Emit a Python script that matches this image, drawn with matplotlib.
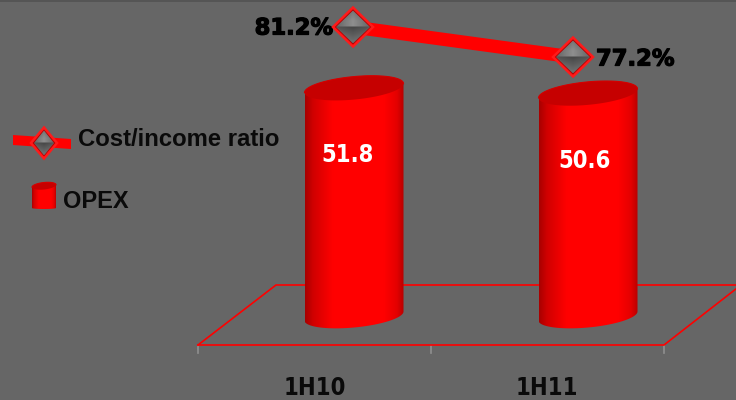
import matplotlib
matplotlib.use('Agg')
import matplotlib.pyplot as plt
import matplotlib.patheffects as pe
import numpy as np
from matplotlib.colors import LinearSegmentedColormap
from matplotlib.patches import Polygon

periods = ['1H10', '1H11']
opex = [51.8, 50.6]
cost_income = [81.2, 77.2]
cost_income_labels = ['81.2%', '77.2%']
series_names = ['Cost/income ratio', 'OPEX']

W, H = 736, 400
BG = '#666666'
RED = '#ff0000'

cyl_cmap = LinearSegmentedColormap.from_list(
    'cyl', [(0, '#a80000'), (0.08, '#d00000'), (0.28, '#ff0000'), (0.8, '#ff0000'), (0.93, '#e40000'), (1, '#b80000')])


def full_axes(fig, x0, x1, y0, y1):
    """Axes over the whole figure, with the given limits."""
    ax = fig.add_axes([0, 0, 1, 1])
    ax.set_xlim(x0, x1)
    ax.set_ylim(y0, y1)
    ax.axis('off')
    ax.patch.set_alpha(0)
    return ax


def ellipse_xy(cx, cy, rx, ry, slope, start=0, stop=2 * np.pi):
    t = np.linspace(start, stop, 80)
    x = rx * np.cos(t)
    return cx + x, cy + ry * np.sin(t) + slope * x / rx


def draw_cylinder(ax, cx, bottom, top, rx, ry, slope, z=3, bottom_ry=None, bottom_slope=None):
    # body: gradient image clipped to the side outline
    bry = ry if bottom_ry is None else bottom_ry
    bslope = slope if bottom_slope is None else bottom_slope
    xb, yb = ellipse_xy(cx, bottom, rx, bry, bslope, np.pi, 2 * np.pi)
    xt, yt = ellipse_xy(cx, top, rx, ry, slope, 0, np.pi)
    outline = np.column_stack([np.r_[xb, xt], np.r_[yb, yt]])
    grad = np.linspace(0, 1, 256).reshape(1, -1)
    im = ax.imshow(grad, cmap=cyl_cmap, aspect='auto', zorder=z, interpolation='bilinear',
                   extent=[cx - rx, cx + rx, bottom - 2 * bry, top + 2 * ry])
    clip = Polygon(outline, closed=True, transform=ax.transData, fc='none', ec='none')
    ax.add_patch(clip)
    im.set_clip_path(clip)
    # top face
    xe, ye = ellipse_xy(cx, top, rx, ry, slope)
    ax.fill(xe, ye, color='#c60000', lw=0, zorder=z + 1)
    xa, ya = ellipse_xy(cx, top, rx, ry, slope, 0, np.pi)
    ax.plot(xa, ya, color='#d40000', lw=0.8, zorder=z + 1)


def diamond_shade():
    # grey levels for the bevelled face: bright upper half, dark lower half
    v, u = np.mgrid[1:-1:80j, -1:1:80j]
    d = np.abs(u) + np.abs(v)
    upper = 0.56 - 0.16 * np.abs(u) - 0.10 * np.clip(v - 0.35, 0, 1) / 0.65
    lower = 0.27 + 0.18 * np.clip(-v, 0, 1) + 0.06 * np.abs(u)
    shade = np.where(v >= 0, upper, lower)
    return np.where(d <= 1.0, shade, 0.4)


def draw_diamond(ax, x, y, rx, ry, z=6):
    rim = [(x - rx, y), (x, y - ry), (x + rx, y), (x, y + ry)]
    ax.add_patch(Polygon(rim, closed=True, fc='#b40000', ec='#ff1a1a', lw=1.8, zorder=z))
    irx, iry = rx - 3, ry - 3
    im = ax.imshow(diamond_shade(), cmap='gray', vmin=0, vmax=1, aspect='auto', zorder=z + 1,
                   interpolation='bilinear', extent=[x - irx, x + irx, y + iry, y - iry])
    clip = Polygon([(x - irx, y), (x, y - iry), (x + irx, y), (x, y + iry)], closed=True,
                   transform=ax.transData, fc='none', ec='none')
    ax.add_patch(clip)
    im.set_clip_path(clip)


fig = plt.figure(figsize=(W / 100, H / 100), dpi=100, facecolor=BG)

# plain axes over the full figure, used for the floor, the ticks and the legend
px = full_axes(fig, 0, W, H, 0)
px.fill_between([0, W], 0, 2, color='#555555', lw=0)

# OPEX scale: 0 sits on the floor centre, 4.4 px per unit
px_per_unit = 4.4
base_y = 316
bar_x0, bar_step = 354, 234
bars = full_axes(fig, -bar_x0 / bar_step, (W - bar_x0) / bar_step,
                 (base_y - H) / px_per_unit, base_y / px_per_unit)
rx = 49.5 / bar_step
ry = 11.5 / px_per_unit
tilt = 4.5 / px_per_unit

# floor outline
px.plot([198, 664, 741], [345, 345, 285], color=RED, lw=1.2, zorder=2)
px.plot([198, 276, 741], [345, 285, 285], color=RED, lw=1.2, zorder=2)
for tx in [198, 431, 664]:
    px.plot([tx, tx], [346, 353], color='#909090', lw=1.2, zorder=1)

for i, v in enumerate(opex):
    draw_cylinder(bars, i, 0, v, rx, ry, tilt)

bar_label_y = [155, 161]
bar_label_dx = [-6, -3]
for i, v in enumerate(opex):
    bars.text(i + bar_label_dx[i] / bar_step, (base_y - bar_label_y[i]) / px_per_unit, f'{v:.1f}', color='white',
              fontsize=17, fontweight='bold', family='DejaVu Sans', stretch='condensed', ha='center', va='center',
              zorder=8)

# cost/income ratio has its own scale and category spacing
line_x0, line_step = 353, 220
ratio_per_px = 4.0 / 30
line_ax = full_axes(fig, -line_x0 / line_step, (W - line_x0) / line_step,
                    81.2 - (H - 27) * ratio_per_px, 81.2 + 27 * ratio_per_px)
line_ax.plot([0, 1], cost_income, color=RED, lw=9.5, solid_capstyle='butt', zorder=5)

# markers sit on top of the line axes, placed from the ratio values
markers = full_axes(fig, 0, W, H, 0)
for i, v in enumerate(cost_income):
    mx, my = markers.transData.inverted().transform(line_ax.transData.transform((i, v)))
    draw_diamond(markers, mx, my, 20, 19.5)

stroke = [pe.withStroke(linewidth=0.9, foreground='black')]
markers.text(333, 28, cost_income_labels[0], ha='right', va='center', fontsize=16.3, fontweight='bold',
             family='DejaVu Sans', color='black', path_effects=stroke)
markers.text(596, 59, cost_income_labels[1], ha='left', va='center', fontsize=16.3, fontweight='bold',
             family='DejaVu Sans', color='black', path_effects=stroke)

for lx, name in zip([315, 547], periods):
    px.text(lx, 388, name, ha='center', va='center', fontsize=17, fontweight='bold', family='DejaVu Sans',
            stretch='condensed', color='#0a0a0a')

# legend
px.fill([13, 71, 71, 13], [135, 139, 149, 145], color=RED, lw=0, zorder=2)
draw_diamond(px, 44, 143, 13, 15.5, z=3)
px.text(78, 139, series_names[0], fontsize=17.2, fontweight='bold', family='Liberation Sans', va='center',
        color='#0a0a0a')

draw_cylinder(px, 44, 208, 186, 12, -3.5, -1.2, z=3, bottom_ry=-1, bottom_slope=0)
px.text(63, 201, series_names[1], fontsize=17, fontweight='bold', family='Liberation Sans', va='center',
        color='#0a0a0a')

fig.savefig('out.png', dpi=100, facecolor=BG)
